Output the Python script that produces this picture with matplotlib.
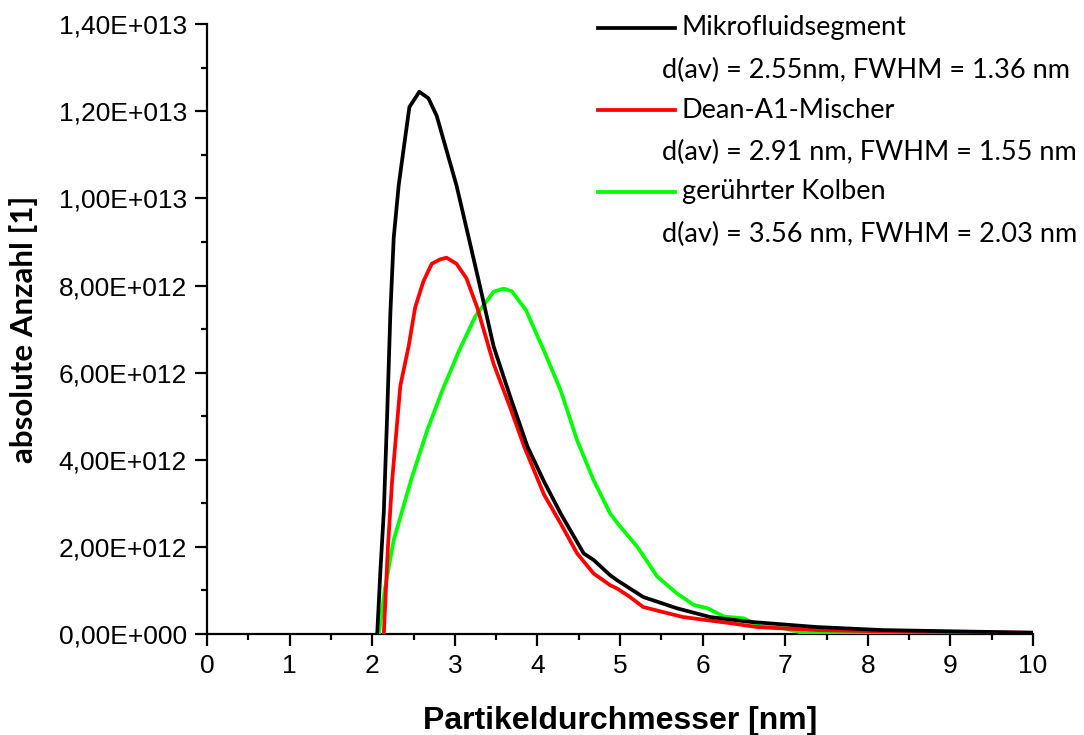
import matplotlib
matplotlib.use("Agg")
import matplotlib.pyplot as plt
from matplotlib.lines import Line2D
from matplotlib.ticker import MultipleLocator, FuncFormatter

# Mikrofluidsegment (black)
x_black = [2.06, 2.10, 2.14, 2.18, 2.22, 2.26, 2.32, 2.37, 2.45, 2.57, 2.68, 2.78, 2.90, 3.02,
           3.18, 3.29, 3.47, 3.67, 3.88, 4.08, 4.28, 4.56, 4.68, 4.88, 4.96, 5.28, 5.69, 6.09,
           6.57, 7.38, 8.18, 10.0]
y_black = [0.0, 1.5, 2.8, 5.0, 7.4, 9.1, 10.3, 11.0, 12.1, 12.45, 12.3, 11.9, 11.1, 10.3,
           9.0, 8.1, 6.6, 5.45, 4.3, 3.5, 2.77, 1.85, 1.70, 1.35, 1.24, 0.85, 0.59, 0.39,
           0.28, 0.16, 0.09, 0.03]

# Dean-A1-Mischer (red)
x_red = [2.14, 2.19, 2.24, 2.34, 2.44, 2.52, 2.62, 2.72, 2.82, 2.90, 3.02, 3.14, 3.27, 3.47,
         3.67, 3.84, 4.08, 4.28, 4.48, 4.68, 4.88, 4.96, 5.12, 5.28, 5.76, 6.33, 6.66, 7.38,
         8.18, 10.0]
y_red = [0.0, 2.0, 3.5, 5.7, 6.6, 7.5, 8.1, 8.5, 8.6, 8.64, 8.5, 8.17, 7.5, 6.2,
         5.2, 4.3, 3.2, 2.54, 1.85, 1.39, 1.12, 1.05, 0.85, 0.62, 0.39, 0.25, 0.16, 0.09,
         0.06, 0.03]

# geruehrter Kolben (green)
x_green = [2.08, 2.15, 2.26, 2.48, 2.67, 2.85, 3.05, 3.25, 3.47, 3.59, 3.69, 3.86, 4.08, 4.28,
           4.48, 4.68, 4.88, 4.97, 5.21, 5.45, 5.69, 5.89, 6.06, 6.26, 6.50, 6.70, 6.98, 7.23,
           8.0, 10.0]
y_green = [0.0, 1.0, 2.16, 3.6, 4.7, 5.6, 6.5, 7.3, 7.86, 7.93, 7.87, 7.44, 6.5, 5.6,
           4.45, 3.53, 2.77, 2.54, 2.0, 1.32, 0.93, 0.67, 0.59, 0.40, 0.36, 0.17, 0.13, 0.02,
           0.01, 0.0]

series_names = ["Mikrofluidsegment", "Dean-A1-Mischer", "gerührter Kolben"]
series_info = ["d(av) = 2.55nm, FWHM = 1.36 nm",
               "d(av) = 2.91 nm, FWHM = 1.55 nm",
               "d(av) = 3.56 nm, FWHM = 2.03 nm"]
series_colors = ["black", "#ff0000", "#00ff00"]

scale = 1e12


def sci_label(v, pos):
    if v == 0:
        return "0,00E+000"
    exp = 0
    m = abs(v)
    while m >= 10:
        m /= 10
        exp += 1
    return ("%.2f" % m).replace(".", ",") + "E+%03d" % exp


def main():
    plt.rcParams["font.family"] = "Liberation Sans"

    fig = plt.figure(figsize=(10.84, 7.35), dpi=100)
    ax = fig.add_axes([0.191, 0.1374, 0.762, 0.8296])

    xs = [x_black, x_red, x_green]
    ys = [y_black, y_red, y_green]
    # green drawn first so black/red sit on top like in the original
    for i in [2, 1, 0]:
        ax.plot(xs[i], [v * scale for v in ys[i]], color=series_colors[i], lw=2.7,
                zorder=3 + (2 - i))

    ax.set_xlim(0, 10)
    ax.set_ylim(0, 1.4e13)
    ax.xaxis.set_major_locator(MultipleLocator(1))
    ax.xaxis.set_minor_locator(MultipleLocator(0.5))
    ax.yaxis.set_major_locator(MultipleLocator(2e12))
    ax.yaxis.set_minor_locator(MultipleLocator(1e12))
    ax.yaxis.set_major_formatter(FuncFormatter(sci_label))

    for side in ["top", "right"]:
        ax.spines[side].set_visible(False)
    for side in ["left", "bottom"]:
        ax.spines[side].set_linewidth(1.6)

    ax.tick_params(which="major", direction="out", length=8.5, width=1.6, labelsize=19, pad=6)
    ax.tick_params(which="minor", direction="out", length=4.5, width=1.6)

    ax.set_xlabel("Partikeldurchmesser [nm]", fontsize=23, fontweight="bold", labelpad=20)
    ax.set_ylabel("absolute Anzahl [1]", fontsize=22.5, fontweight="bold",
                  family="Lato", labelpad=15)

    # hand-made legend, top right
    line_y = [28, 110, 192]
    for i in range(3):
        fy = 1 - line_y[i] / 735
        fig.add_artist(Line2D([598 / 1084, 675 / 1084], [fy, fy], color=series_colors[i],
                              lw=2.7, transform=fig.transFigure))
        fig.text(682 / 1084, fy, series_names[i], fontsize=19.5, family="Lato",
                 va="center", ha="left")
        fig.text(662 / 1084, 1 - (line_y[i] + 42) / 735, series_info[i], fontsize=19.5,
                 family="Lato", va="center", ha="left")

    fig.savefig("out.png", dpi=100)


if __name__ == '__main__':
    main()
